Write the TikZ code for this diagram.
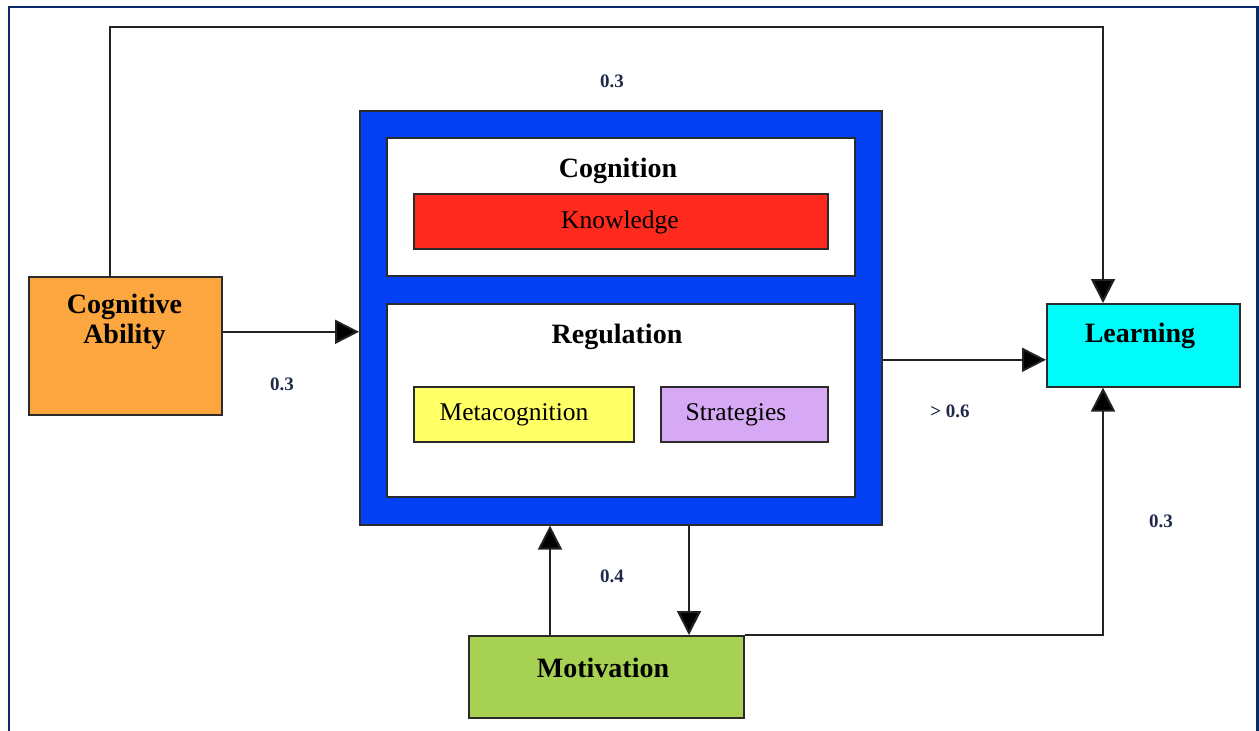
\documentclass[tikz,border=0pt]{standalone}
\usepackage{fontspec}
\setmainfont{Liberation Serif}
\usetikzlibrary{arrows.meta}
\definecolor{frameclr}{HTML}{0A2A6E}
\definecolor{lineclr}{HTML}{222222}
\definecolor{boxline}{HTML}{2B2B2B}
\definecolor{cogfill}{HTML}{FBA63F}
\definecolor{bluefill}{HTML}{0541F4}
\definecolor{redfill}{HTML}{FE2A1E}
\definecolor{yelfill}{HTML}{FFFF66}
\definecolor{purfill}{HTML}{D7A9F4}
\definecolor{cyanfill}{HTML}{00FBFB}
\definecolor{grnfill}{HTML}{A6D152}
\definecolor{lblclr}{HTML}{1E2A48}
\begin{document}
\begin{tikzpicture}[x=1pt,y=-1pt,
  box/.style={draw=boxline, line width=1.6pt, inner sep=0pt, anchor=north west},
  conn/.style={draw=lineclr, line width=2pt, -{Triangle[length=24pt,width=24pt,fill=black]}},
  title/.style={inner sep=0pt, align=center, font=\fontsize{28}{30}\selectfont\bfseries},
  inner/.style={inner sep=0pt, font=\fontsize{25.5}{28}\selectfont},
  lbl/.style={inner sep=0pt, text=lblclr, font=\fontsize{19}{22}\selectfont\bfseries}]
\useasboundingbox (0,0) rectangle (1259,731);
% outer frame
\draw[frameclr, line width=2.5pt] (9,731) -- (9,7) -- (1257.5,7) -- (1257.5,731);
% boxes
\node[box, fill=cogfill, minimum width=193pt, minimum height=138pt] (cab) at (28,276) {};
\node[box, fill=bluefill, minimum width=522pt, minimum height=414pt] (blue) at (359,110) {};
\node[box, fill=white, minimum width=468pt, minimum height=138pt] (cogn) at (386,137) {};
\node[box, fill=redfill, minimum width=414pt, minimum height=55pt] (know) at (413,193) {};
\node[box, fill=white, minimum width=468pt, minimum height=193pt] (reg) at (386,303) {};
\node[box, fill=yelfill, minimum width=220pt, minimum height=55pt] (meta) at (413,386) {};
\node[box, fill=purfill, minimum width=167pt, minimum height=55pt] (strat) at (660,386) {};
\node[box, fill=cyanfill, minimum width=193pt, minimum height=83pt] (lrn) at (1046,303) {};
\node[box, fill=grnfill, minimum width=275pt, minimum height=82pt] (mot) at (468,635) {};
% texts
\node[title] (cabt) at (124.5,322) {Cognitive\\Ability};
\node[title] (cognt) at (618,171) {Cognition};
\node[inner] (knowt) at (620,222) {Knowledge};
\node[title] (regt) at (617,337) {Regulation};
\node[inner] (metat) at (514,415) {Metacognition};
\node[inner] (stratt) at (736,415) {Strategies};
\node[title] (lrnt) at (1140,336) {Learning};
\node[title] (mott) at (603,668) {Motivation};
% connectors
\coordinate (ctop) at (110,27);
\coordinate (crt) at (1103,27);
\draw[conn] (ctop |- cab.north) -- (ctop) -- (crt) -- (crt |- lrn.north);
\coordinate (cp) at ([yshift=14pt]cab.east);
\draw[conn] (cp) -- (cp -| blue.west);
\coordinate (lp) at ([yshift=-14.5pt]lrn.west);
\draw[conn] (lp -| blue.east) -- (lp);
\coordinate (mu) at (550,0);
\draw[conn] (mu |- mot.north) -- (mu |- blue.south);
\coordinate (md) at (689,0);
\draw[conn] (md |- blue.south) -- (md |- mot.north);
\coordinate (cbr) at (1103,635);
\draw[conn] (mot.north east) -- (cbr) -- (cbr |- lrn.south);
% labels
\node[lbl] (l1) at (612,81) {0.3};
\node[lbl] (l2) at (282,384) {0.3};
\node[lbl] (l3) at (950,411) {> 0.6};
\node[lbl] (l4) at (1161,521) {0.3};
\node[lbl] (l5) at (612,576) {0.4};
\end{tikzpicture}
\end{document}
